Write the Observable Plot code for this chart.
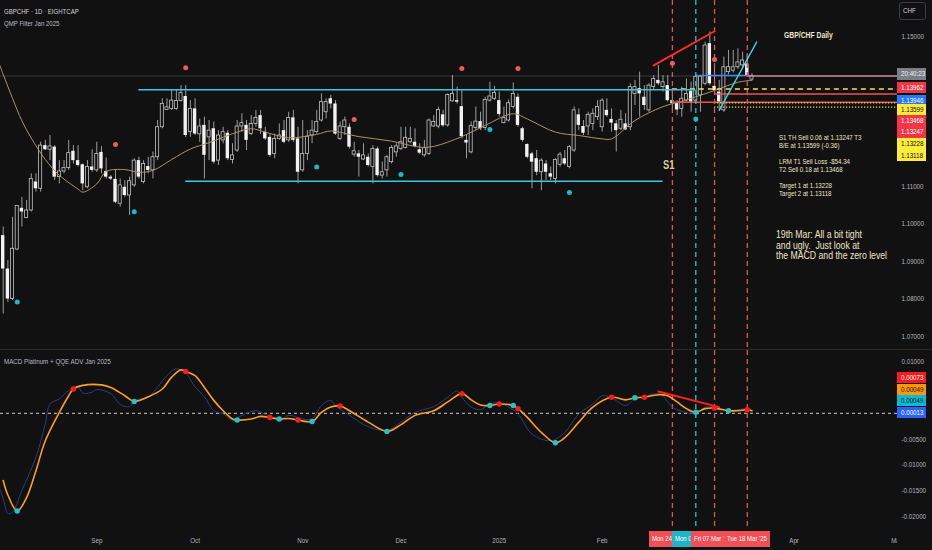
<!DOCTYPE html>
<html><head><meta charset="utf-8">
<script src="https://cdn.jsdelivr.net/npm/d3@7"></script>
<script src="https://cdn.jsdelivr.net/npm/@observablehq/plot@0.6"></script>
<style>
html,body{margin:0;padding:0;background:#111111;}
#wrap{position:relative;width:932px;height:550px;overflow:hidden;background:#111111;
 font-family:"Liberation Sans",Arial,sans-serif;}
#wrap svg{position:absolute;left:0;}
.t{position:absolute;white-space:pre;}
.box{position:absolute;overflow:hidden;white-space:pre;}
</style></head><body><div id="wrap"></div>
<script>
// ---------------- DATA ----------------
const firstBarDate = "2024-08-05";
const skippedDates = ["2024-12-25","2025-01-01"];

const candleOpen = [
1.0969,1.0880,1.0800,1.0932,1.1042,1.1016,1.1036,1.1112,1.1094,1.1209,
1.1198,1.1205,1.1125,1.1140,1.1149,1.1194,1.1169,1.1158,1.1098,1.1152,
1.1143,1.1191,1.1140,1.1125,1.1119,1.1054,1.1098,1.1076,1.1103,1.1169,
1.1112,1.1153,1.1143,1.1178,1.1258,1.1304,1.1307,1.1307,1.1328,1.1340,
1.1245,1.1307,1.1239,1.1263,1.1231,1.1254,1.1169,1.1223,1.1242,1.1171,
1.1196,1.1260,1.1263,1.1240,1.1267,1.1289,1.1245,1.1231,1.1187,1.1227,
1.1249,1.1223,1.1283,1.1227,1.1143,1.1187,1.1236,1.1245,1.1276,1.1298,
1.1334,1.1320,1.1227,1.1258,1.1258,1.1185,1.1187,1.1172,1.1178,1.1152,
1.1200,1.1129,1.1143,1.1165,1.1191,1.1200,1.1203,1.1218,1.1218,1.1198,
1.1183,1.1187,1.1260,1.1260,1.1291,1.1263,1.1327,1.1329,1.1313,1.1223,
1.1191,1.1256,1.1273,1.1256,1.1329,1.1334,1.1329,1.1269,1.1276,1.1312,
1.1338,1.1254,1.1212,1.1187,1.1174,1.1138,1.1160,1.1134,1.1120,1.1158,
1.1174,1.1152,1.1196,1.1291,1.1260,1.1260,1.1267,1.1285,1.1258,1.1303,
1.1279,1.1267,1.1254,1.1267,1.1258,1.1347,1.1361,1.1338,1.1303,1.1365,
1.1383,1.1365,1.1369,1.1329,1.1321,1.1307,1.1329,1.1354,1.1329,1.1343,
1.1374,1.1481,1.1367,1.1352,1.1303,1.1405,1.1409,1.1418,1.1423,1.1427,1.1385];
const candleHigh = [
1.0992,1.0903,1.1018,1.1049,1.1071,1.1063,1.1134,1.1134,1.1218,1.1223,
1.1236,1.1209,1.1169,1.1169,1.1223,1.1209,1.1209,1.1160,1.1169,1.1198,
1.1218,1.1207,1.1176,1.1129,1.1143,1.1120,1.1116,1.1125,1.1174,1.1178,
1.1169,1.1178,1.1192,1.1276,1.1334,1.1334,1.1356,1.1356,1.1369,1.1369,
1.1329,1.1334,1.1280,1.1285,1.1276,1.1272,1.1249,1.1258,1.1249,1.1214,
1.1276,1.1294,1.1276,1.1289,1.1303,1.1303,1.1258,1.1240,1.1240,1.1267,
1.1276,1.1298,1.1303,1.1258,1.1276,1.1249,1.1276,1.1303,1.1347,1.1334,
1.1343,1.1329,1.1272,1.1285,1.1267,1.1218,1.1196,1.1214,1.1187,1.1209,
1.1205,1.1165,1.1183,1.1209,1.1214,1.1258,1.1258,1.1258,1.1254,1.1214,
1.1223,1.1280,1.1289,1.1312,1.1303,1.1347,1.1396,1.1365,1.1356,1.1236,
1.1272,1.1312,1.1298,1.1338,1.1378,1.1367,1.1352,1.1312,1.1331,1.1376,
1.1347,1.1258,1.1214,1.1191,1.1196,1.1174,1.1169,1.1152,1.1174,1.1191,
1.1196,1.1209,1.1312,1.1307,1.1276,1.1298,1.1307,1.1329,1.1334,1.1334,
1.1307,1.1276,1.1303,1.1294,1.1374,1.1383,1.1405,1.1369,1.1374,1.1396,
1.1423,1.1396,1.1396,1.1343,1.1329,1.1365,1.1387,1.1378,1.1396,1.1396,
1.1485,1.1512,1.1423,1.1383,1.1445,1.1463,1.1463,1.1467,1.1458,1.1454,1.1401];
const candleLow = [
1.0760,1.0791,1.0796,1.0929,1.0992,1.1014,1.1032,1.1085,1.1085,1.1196,
1.1169,1.1116,1.1107,1.1134,1.1143,1.1160,1.1152,1.1089,1.1094,1.1138,
1.1138,1.1134,1.1120,1.1116,1.1054,1.1045,1.1071,1.1023,1.1098,1.1120,
1.1107,1.1134,1.1120,1.1169,1.1254,1.1303,1.1303,1.1303,1.1325,1.1230,
1.1231,1.1236,1.1218,1.1120,1.1169,1.1160,1.1156,1.1214,1.1169,1.1160,
1.1191,1.1245,1.1196,1.1236,1.1258,1.1239,1.1223,1.1178,1.1174,1.1223,
1.1214,1.1218,1.1218,1.1107,1.1138,1.1169,1.1214,1.1240,1.1272,1.1280,
1.1307,1.1236,1.1223,1.1236,1.1200,1.1178,1.1125,1.1169,1.1152,1.1107,
1.1125,1.1120,1.1125,1.1160,1.1178,1.1196,1.1200,1.1214,1.1203,1.1185,
1.1178,1.1183,1.1258,1.1254,1.1258,1.1258,1.1325,1.1320,1.1227,1.1174,
1.1187,1.1249,1.1249,1.1249,1.1325,1.1329,1.1285,1.1267,1.1272,1.1307,
1.1258,1.1218,1.1174,1.1094,1.1129,1.1089,1.1116,1.1116,1.1107,1.1152,
1.1156,1.1147,1.1191,1.1249,1.1236,1.1236,1.1249,1.1276,1.1245,1.1285,
1.1245,1.1192,1.1249,1.1249,1.1249,1.1316,1.1285,1.1303,1.1298,1.1356,
1.1369,1.1352,1.1325,1.1303,1.1289,1.1285,1.1321,1.1298,1.1321,1.1298,
1.1369,1.1369,1.1352,1.1303,1.1298,1.1398,1.1403,1.1412,1.1418,1.1394,1.1383];
const candleClose = [
1.0880,1.0800,1.0934,1.1048,1.1032,1.1036,1.1120,1.1094,1.1209,1.1198,
1.1207,1.1125,1.1140,1.1149,1.1189,1.1169,1.1156,1.1107,1.1152,1.1143,
1.1187,1.1147,1.1125,1.1120,1.1058,1.1103,1.1076,1.1114,1.1169,1.1125,
1.1160,1.1143,1.1178,1.1258,1.1320,1.1311,1.1329,1.1328,1.1349,1.1236,
1.1307,1.1240,1.1260,1.1183,1.1249,1.1165,1.1236,1.1245,1.1174,1.1183,
1.1260,1.1269,1.1223,1.1267,1.1283,1.1254,1.1227,1.1183,1.1227,1.1236,
1.1218,1.1283,1.1223,1.1138,1.1187,1.1233,1.1249,1.1272,1.1325,1.1325,
1.1320,1.1240,1.1260,1.1276,1.1205,1.1194,1.1178,1.1183,1.1156,1.1200,
1.1129,1.1138,1.1178,1.1203,1.1207,1.1218,1.1230,1.1227,1.1207,1.1189,
1.1202,1.1276,1.1272,1.1304,1.1262,1.1344,1.1347,1.1325,1.1233,1.1216,
1.1261,1.1273,1.1254,1.1331,1.1340,1.1349,1.1292,1.1283,1.1322,1.1347,
1.1263,1.1223,1.1178,1.1165,1.1138,1.1169,1.1138,1.1125,1.1171,1.1185,
1.1160,1.1205,1.1303,1.1263,1.1242,1.1291,1.1294,1.1312,1.1329,1.1289,
1.1269,1.1249,1.1278,1.1251,1.1365,1.1365,1.1347,1.1316,1.1369,1.1387,
1.1374,1.1378,1.1329,1.1321,1.1304,1.1334,1.1347,1.1325,1.1392,1.1393,
1.1476,1.1374,1.1356,1.1325,1.1418,1.1418,1.1418,1.1431,1.1436,1.1396,1.13946];

const maBars   = [0,1,3,5,7,10,13,17,18,21,23,27,30,33,37,41,45,51,54,57,62,68,71,77,84,90,93,99,104,110,113,119,124,129,131,136,142,147,153,158,161];
const maValues = [1.1432,1.1399,1.1335,1.1275,1.1229,1.1172,1.1130,1.1093,1.1085,1.1107,1.1140,1.1145,1.1138,1.1143,1.1172,1.1200,1.1217,1.1245,1.1254,1.1245,1.1230,1.1239,1.1248,1.1233,1.1221,1.1205,1.1207,1.1233,1.1263,1.1294,1.1280,1.1245,1.1236,1.1227,1.1227,1.1276,1.1313,1.1331,1.1356,1.1378,1.1383];

const priceSellDotBars = [25,40,76,99,111,144,153];
const priceSellDotValues = [1.1212,1.1417,1.1279,1.1415,1.1415,1.1429,1.1439];
const priceBuyDotBars = [4,29,68,86,105,122,149];
const priceBuyDotValues = [1.0792,1.1033,1.1152,1.1132,1.1252,1.1084,1.1280];

const channelPrices = [1.1358, 1.1114];
const channelStartBars = [30, 40];
const channelEndBars = [149, 142];

const tradeLevelPrices = [1.13599, 1.13468, 1.13247, 1.13228, 1.13118];
const tradeLevelStart  = ["2025-02-24","2025-03-07","2025-02-24","2025-03-07","2025-03-07"];
const tradeLevelKind   = ["be","t2","s1","target","target"];
const markerPrice = 1.13962;
const markerPriceFrom = "2025-03-03", markerPriceTo = "2025-03-18";

const priceDivBars = [140,153], priceDivValues = [1.1423,1.1514];
const priceTrendBars = [154,162], priceTrendValues = [1.1303,1.1485];

const priceAxisTicks = [1.15,1.11,1.10,1.09,1.08,1.07];

const macdBars = [1,2,4,6,8,10,13,15,16,18,22,24,27,29,32,35,37,39,40,42,44,46,48,50,51,54,56,58,60,62,64,67,69,71,73,75,79,83,86,89,93,96,99,101,103,105,107,110,111,113,116,119,121,124,127,131,134,136,138,141,143,145,147,149,151,153,156,158,160,161];
const macdOrange = [-0.0130,-0.0158,-0.0189,-0.0163,-0.0111,-0.0053,0.0002,0.0034,0.0047,0.0054,0.0055,0.0050,0.0034,0.0023,0.0032,0.0047,0.0070,0.0084,0.0081,0.0073,0.0050,0.0025,0.0005,-0.0011,-0.0013,-0.0011,-0.0006,-0.0008,-0.0011,-0.0010,-0.0013,-0.0016,0.0002,0.0012,0.0014,0.0005,-0.0017,-0.0035,-0.0022,-0.0004,0.0005,0.0022,0.0038,0.0026,0.0016,0.0015,0.0018,0.0015,0.0009,-0.0008,-0.0037,-0.0057,-0.0047,-0.0017,0.0012,0.0031,0.0026,0.0030,0.0031,0.0036,0.0034,0.0022,0.0009,0.0002,0.0009,0.0010,0.0005,0.0005,0.0007,0.0005];
const navyBars = [0,1,2,3,5,8,10,11,13,15,17,18,20,21,24,26,28,29,32,34,36,38,40,42,44,46,48,50,52,55,57,60,62,65,67,69,71,72,75,79,83,86,89,93,96,98,99,101,103,105,107,109,111,114,118,121,124,127,129,131,134,136,138,141,142,144,146,149,151,153,156,158,160,161];
const navyValues = [-0.0140,-0.0165,-0.0194,-0.0191,-0.0149,-0.0085,-0.0020,0.0018,0.0028,0.0044,0.0051,0.0039,0.0041,0.0046,0.0038,0.0017,0.0013,0.0025,0.0031,0.0051,0.0073,0.0086,0.0078,0.0051,0.0032,0.0005,-0.0001,-0.0013,-0.0004,0.0005,-0.0002,-0.0014,-0.0004,-0.0011,-0.0011,0.0015,0.0025,0.0015,-0.0004,-0.0026,-0.0033,-0.0017,0.0002,0.0013,0.0031,0.0043,0.0031,0.0012,0.0007,0.0018,0.0020,0.0012,-0.0001,-0.0040,-0.0053,-0.0037,-0.0001,0.0018,0.0034,0.0030,0.0015,0.0028,0.0033,0.0038,0.0033,0.0012,0.0004,0.0000,0.0012,0.0013,0.0005,0.0007,0.0009,0.0007];
const macdSellDotBars = [16,40,58,64,73,99,107,111,131,138,153,160];
const macdBuyDotBars  = [4,29,51,60,67,83,105,110,119,136,149,156];
const macdDivBars = [141,154], macdDivValues = [0.0042,0.0012];
const macdAxisTicks = [0.01,-0.005,-0.01,-0.015,-0.02];

const monthTickDates  = ["2024-09-02","2024-10-01","2024-11-01","2024-12-02","2025-01-02","2025-02-03","2025-04-01","2025-05-01"];
const monthTickLabels = ["Sep","Oct","Nov","Dec","2025","Feb","Apr","May"];

const eventDates  = ["2025-02-24","2025-03-03","2025-03-07","2025-03-18"];
const eventKinds  = ["sell","buy","sell","sell"];
const eventLabels = ["Mon 24 Feb '25","Mon 03 Mar '25","Fri 07 Mar '25","Tue 18 Mar '25"];

const priceTagTexts = ["20:40:23","1.13962","1.13946","1.13599","1.13468","1.13247","1.13228","1.13118"];
const macdTagTexts  = ["0.00073","0.00049","0.00049","0.00013"];

const headerLines = ["GBPCHF · 1D · EIGHTCAP","QMP Filter Jan 2025"];
const macdTitle = "MACD Platinum + QQE ADV Jan 2025";
const chartTitle = "GBP/CHF Daily";
const tradeNotes = ["S1 TH Sell 0.06 at 1.13247 T3","B/E at 1.13599 (-0.36)","","LRM T1 Sell Loss -$54.34","T2 Sell 0.18 at 1.13468","","Target 1 at 1.13228","Target 2 at 1.13118"];
const commentNotes = ["19th Mar: All a bit tight","and ugly.  Just look at","the MACD and the zero level"];
const signalLabel = "S1";
const currencyLabel = "CHF";

// ---------------- HELPERS ----------------
const barDates = [];
{
  let d = new Date(firstBarDate + "T00:00:00Z");
  while (barDates.length < 220) {
    const iso = d.toISOString().slice(0,10), wd = d.getUTCDay();
    if (wd !== 0 && wd !== 6 && !skippedDates.includes(iso)) barDates.push(iso);
    d = new Date(d.getTime() + 86400000);
  }
}
const barOf = s => barDates.indexOf(s) + 1;

const BG = "#111111", W = 932, RIGHT = 35;
const xDomain = [0.423, 192.1];
const FONT = '"Liberation Sans",Arial,sans-serif';
const SQ = 0.82; // horizontal squeeze of the narrow UI font
const RED = "#f23645", CYAN = "#3cc8dc", YEL = "#ffeb3b";

const candles = candleOpen.map((o,i)=>{
  const c = candleClose[i], lo = Math.min(o,c), hi = Math.max(o,c);
  const pad = hi-lo < 0.00025 ? (0.00025-(hi-lo))/2 : 0;
  return {bar:i+1, o, h:candleHigh[i], l:candleLow[i], c, b1:lo-pad, b2:hi+pad, up:c>=o};
});
const ma = maBars.map((b,i)=>({bar:b, v:maValues[i]}));
const sellDots = priceSellDotBars.map((b,i)=>({bar:b, v:priceSellDotValues[i]}));
const buyDots = priceBuyDotBars.map((b,i)=>({bar:b, v:priceBuyDotValues[i]}));
const channels = channelPrices.map((p,i)=>({y:p, x1:channelStartBars[i], x2:channelEndBars[i]}));
const levels = tradeLevelPrices.map((p,i)=>({y:p, x1:barOf(tradeLevelStart[i]), x2:xDomain[1], kind:tradeLevelKind[i]}));
const lastPrice = candleClose[candleClose.length-1];
const lastBar = candleClose.length;
const events = eventDates.map((d,i)=>({bar:barOf(d), kind:eventKinds[i], label:eventLabels[i]}));
const line2 = (bars, vals) => bars.map((b,i)=>({bar:b, v:vals[i]}));
const orange = line2(macdBars, macdOrange);
const navy = line2(navyBars, navyValues);
const orangeAt = b => macdOrange[macdBars.indexOf(b)];
const monthTicks = monthTickDates.map(barOf);
const monthLabelOf = new Map(monthTicks.map((b,i)=>[b, monthTickLabels[i]]));

// ---------------- PRICE PANEL ----------------
const p1 = Plot.plot({
  width: W, height: 350, marginLeft: 0, marginRight: RIGHT, marginTop: 0, marginBottom: 0,
  style: {background: "transparent", color: "#b2b5be", fontSize: "7.6px", fontFamily: FONT},
  x: {type: "linear", domain: xDomain, axis: null, label: null},
  y: {domain: [1.06627, 1.1596], axis: null, label: null},
  marks: [
    Plot.ruleY([lastPrice], {stroke: "#3a3a3a", strokeWidth: 1}),
    Plot.ruleX(candles, {x: "bar", y1: "l", y2: "h", stroke: "#9c9c9c", strokeWidth: 1}),
    Plot.rect(candles.filter(d=>d.up), {x1: d=>d.bar-0.33, x2: d=>d.bar+0.33, y1: "b1", y2: "b2", fill: BG, stroke: "#c4c4c4", strokeWidth: 0.8}),
    Plot.rect(candles.filter(d=>!d.up), {x1: d=>d.bar-0.36, x2: d=>d.bar+0.36, y1: "b1", y2: "b2", fill: "#f2f2f2"}),
    Plot.line(ma, {x: "bar", y: "v", curve: "catmull-rom", stroke: "#a8936a", strokeWidth: 1, clip: true}),
    Plot.ruleY(levels.filter(d=>d.kind==="be"), {y: "y", x1: "x1", x2: "x2", stroke: "#f5e44a", strokeWidth: 1.4, strokeDasharray: "5,4"}),
    Plot.ruleY(channels, {y: "y", x1: "x1", x2: "x2", stroke: CYAN, strokeWidth: 1.6}),
    Plot.ruleY(levels.filter(d=>d.kind==="s1"), {y: "y", x1: "x1", x2: "x2", stroke: "#f0524f", strokeWidth: 1.3}),
    Plot.ruleY(levels.filter(d=>d.kind==="target"), {y: "y", x1: "x1", x2: "x2", stroke: "#f5e44a", strokeWidth: 1.2, strokeDasharray: "1.2,1.8"}),
    Plot.ruleY(levels.filter(d=>d.kind==="t2"), {y: "y", x1: "x1", x2: "x2", stroke: "#f0524f", strokeWidth: 1.5}),
    Plot.ruleY([markerPrice], {x1: barOf(markerPriceFrom), x2: barOf(markerPriceTo), stroke: "#3d8bfd", strokeWidth: 1.4}),
    Plot.ruleY([lastPrice], {x1: lastBar-1, x2: xDomain[1], stroke: "#c98a98", strokeWidth: 1.6}),
    Plot.ruleX(events.filter(d=>d.kind==="sell"), {x: "bar", stroke: "#e0525a", strokeWidth: 1.3, strokeDasharray: "5,4"}),
    Plot.ruleX(events.filter(d=>d.kind==="buy"), {x: "bar", stroke: "#2cc4d8", strokeWidth: 1.3, strokeDasharray: "5,4"}),
    Plot.line(line2(priceDivBars, priceDivValues), {x: "bar", y: "v", stroke: "#ff2a2a", strokeWidth: 2, clip: true}),
    Plot.line(line2(priceTrendBars, priceTrendValues), {x: "bar", y: "v", stroke: "#40d8ea", strokeWidth: 1.3, clip: true}),
    Plot.dot(sellDots, {x: "bar", y: "v", r: 2.5, fill: "#f05a5a"}),
    Plot.dot(buyDots, {x: "bar", y: "v", r: 2.5, fill: "#1cb8c8"}),
    Plot.axisY({anchor: "right", ticks: priceAxisTicks, tickFormat: d=>d.toFixed(5), tickSize: 0, tickPadding: 4, label: null})
  ]
});
p1.style.top = "0px";

// ---------------- MACD PANEL ----------------
const p2 = Plot.plot({
  width: W, height: 200, marginLeft: 0, marginRight: RIGHT, marginTop: 0, marginBottom: 23,
  style: {background: "transparent", color: "#b2b5be", fontSize: "7.6px", fontFamily: FONT},
  x: {type: "linear", domain: xDomain, label: null},
  y: {domain: [-0.022089, 0.012147], axis: null, label: null},
  marks: [
    Plot.ruleY([0], {stroke: "#cfcfcf", strokeWidth: 1, strokeDasharray: "3,3"}),
    Plot.ruleX(events.filter(d=>d.kind==="sell"), {x: "bar", stroke: "#e0525a", strokeWidth: 1.3, strokeDasharray: "5,4"}),
    Plot.ruleX(events.filter(d=>d.kind==="buy"), {x: "bar", stroke: "#2cc4d8", strokeWidth: 1.3, strokeDasharray: "5,4"}),
    Plot.line(navy, {x: "bar", y: "v", curve: "catmull-rom", stroke: "#263f86", strokeWidth: 1, clip: true}),
    Plot.line(orange, {x: "bar", y: "v", curve: "catmull-rom", stroke: "#ff9f1a", strokeWidth: 1.6, clip: true}),
    Plot.line(line2(macdDivBars, macdDivValues), {x: "bar", y: "v", stroke: "#ff1f1f", strokeWidth: 2}),
    Plot.dot(macdSellDotBars, {x: d=>d, y: d=>orangeAt(d), r: 2.7, fill: "#ff1a1a"}),
    Plot.dot(macdBuyDotBars, {x: d=>d, y: d=>orangeAt(d), r: 2.7, fill: "#1ec3d2"}),
    Plot.axisX({ticks: monthTicks, tickFormat: d=>monthLabelOf.get(d), tickSize: 0, tickPadding: 10, label: null}),
    Plot.axisY({anchor: "right", ticks: macdAxisTicks, tickFormat: d=>d.toFixed(5), tickSize: 0, tickPadding: 4, label: null})
  ]
});
p2.style.top = "350px";

// ---------------- ASSEMBLE ----------------
const wrap = document.getElementById("wrap");
wrap.appendChild(p1);
wrap.appendChild(p2);
// narrow the axis labels like the original UI font
for (const svg of [p1, p2]) {
  svg.querySelectorAll('[aria-label$="tick label"] text').forEach(t => {
    const L = t.getComputedTextLength();
    if (L > 0) { t.setAttribute("textLength", (L*SQ).toFixed(2)); t.setAttribute("lengthAdjust", "spacingAndGlyphs"); }
  });
}
const xs = p2.scale("x");

function addText(text, left, top, size, lh, color, extra={}, squeeze=SQ) {
  const el = document.createElement("div");
  el.className = "t";
  el.textContent = text;
  Object.assign(el.style, {left:left+"px", top:top+"px", fontSize:size+"px", lineHeight:lh+"px", color,
    transform:`scaleX(${squeeze})`, transformOrigin:"0 0"}, extra);
  wrap.appendChild(el);
  return el;
}
function addBox(text, left, top, width, height, bg, fg, size, pad, extra={}) {
  const el = document.createElement("div");
  el.className = "box";
  Object.assign(el.style, {left:left+"px", top:top+"px", width:width+"px", height:height+"px", background:bg}, extra);
  const sp = document.createElement("div");
  sp.textContent = text;
  Object.assign(sp.style, {position:"absolute", left:pad+"px", top:"0px", fontSize:size+"px", lineHeight:height+"px",
    whiteSpace:"pre", overflow:"hidden", width:((width-pad)/SQ).toFixed(2)+"px", height:height+"px",
    color:fg, transform:`scaleX(${SQ})`, transformOrigin:"0 0"});
  el.appendChild(sp);
  wrap.appendChild(el);
  return el;
}
function addRect(left, top, width, height, css) {
  const el = document.createElement("div");
  el.className = "box";
  Object.assign(el.style, {left:left+"px", top:top+"px", width:width+"px", height:height+"px"}, css);
  wrap.appendChild(el);
}
// pane separator and clipping of the time-axis label under the price scale
addRect(0, 349, 932, 1, {background:"#2a2a2a"});
addRect(897, 527, 35, 23, {background:BG});

// header
addText(headerLines[0], 4, 6.5, 7.4, 10, "#d1d4dc");
addText(headerLines[1], 4, 18.5, 7.4, 10, "#b8bbc4");
addText(macdTitle, 4, 356.5, 7.6, 10, "#b8bbc4");
addRect(899, 2, 27, 18, {border:"1px solid #3a3d46", borderRadius:"3px", boxSizing:"border-box"});
addText(currencyLabel, 903, 5.5, 7.6, 10, "#d1d4dc");

// annotations
addText(chartTitle, 784, 29.5, 8.3, 10, "#f2e6cc", {fontWeight:"bold"});
addText(tradeNotes.join("\n"), 779, 133.7, 7.5, 8.1, "#efe3c8");
addText(commentNotes.join("\n"), 776, 229.2, 10.6, 10.5, "#efe3c8");
addText(signalLabel, 663, 157.5, 12, 14, "#e3cd98", {fontWeight:"bold"}, 0.78);

// stacked price tags
const priceTagTops = [68, 81.5, 94.5, 103.5, 115, 126, 138, 149.5];
const priceTagBg = ["#7b7e88", RED, "#2979ff", YEL, RED, RED, YEL, YEL];
const priceTagFg = ["#f0f0f0","#fff","#fff","#111","#fff","#fff","#111","#111"];
priceTagTexts.forEach((t,i)=>addBox(t, 897, priceTagTops[i], 28.5, 11.5, priceTagBg[i], priceTagFg[i], 7.6, 3.5));
// MACD tags
const macdTagTops = [372, 384, 395, 406.5];
const macdTagBg = ["#ff1a1a","#ff9800","#00bcd4","#2962ff"];
const macdTagFg = ["#fff","#111","#111","#fff"];
macdTagTexts.forEach((t,i)=>addBox(t, 897, macdTagTops[i], 28.5, 11, macdTagBg[i], macdTagFg[i], 7.6, 3.5));

// date labels on the time axis (later ones cover earlier ones)
const boxLefts = events.map(e => xs.apply(e.bar) - 23);
events.forEach((e,i)=>{
  const w = i < events.length-1 ? Math.min(46, boxLefts[i+1] - boxLefts[i]) : 46;
  addBox(e.label, boxLefts[i], 530.5, w, 16.5, e.kind==="buy" ? "#1fb5c9" : "#ef4f55", "#fff", 7.3, 3);
});
</script></body></html>
